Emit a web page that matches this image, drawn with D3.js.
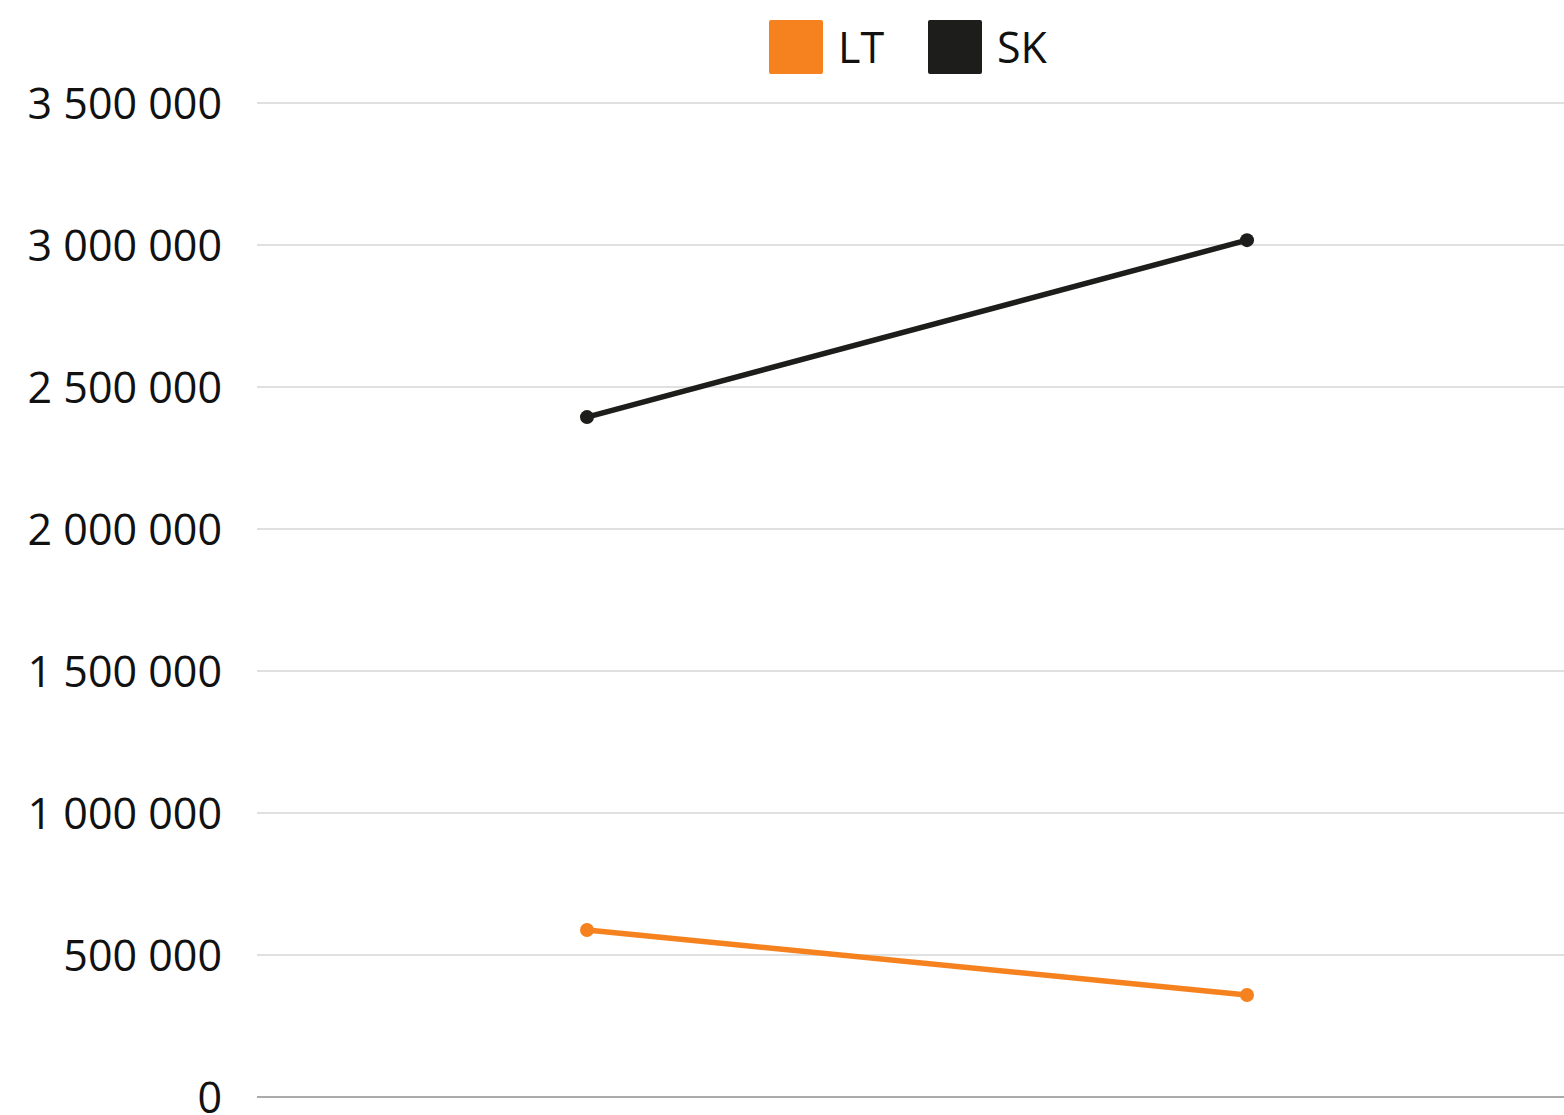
<!DOCTYPE html>
<html>
<head>
<meta charset="utf-8">
<script src="https://cdn.jsdelivr.net/npm/d3@7"></script>
<style>
  body { margin: 0; background: #fff; }
  svg { display: block; font-family: "Open Sans", "Noto Sans", sans-serif; }
</style>
</head>
<body>
<div id="chart-area"></div>
<script>
// Data
var categories = ["2021", "2022"];
var seriesNames = ["LT", "SK"];
var ltValues = [588000, 359000];
var skValues = [2394000, 3017000];
var yTicks = [0, 500000, 1000000, 1500000, 2000000, 2500000, 3000000, 3500000];

var colors = { LT: "#f5821f", SK: "#1d1d1b" };

var series = [
    { name: "LT", values: ltValues },
    { name: "SK", values: skValues }
];

// Size
var W = 1564, H = 1115;
var margin = { top: 103, right: -13, bottom: 18, left: 257 };

var svg = d3.select("#chart-area")
    .append("svg")
    .attr("width", W)
    .attr("height", H);

// Scales
var x = d3.scalePoint()
    .domain(categories)
    .range([margin.left, W - margin.right])
    .padding(0.5);

var y = d3.scaleLinear()
    .domain([0, 3500000])
    .range([H - margin.bottom, margin.top]);

var locale = d3.formatLocale({ decimal: ",", thousands: " ", grouping: [3], currency: ["", ""] });
var fmt = locale.format(",d");

// Grid lines
svg.append("g")
    .selectAll("line")
    .data(yTicks)
    .enter()
    .append("line")
    .attr("x1", margin.left)
    .attr("x2", W)
    .attr("y1", (d) => y(d))
    .attr("y2", (d) => y(d))
    .attr("stroke", (d) => d === 0 ? "#aaaaaa" : "#e0e0e0")
    .attr("stroke-width", 2);

// Y axis labels
var leftAxis = d3.axisLeft(y)
    .tickValues(yTicks)
    .tickFormat(fmt)
    .tickSize(0)
    .tickPadding(35);

var ay = svg.append("g")
    .attr("transform", "translate(" + margin.left + ",0)")
    .call(leftAxis);
ay.select(".domain").remove();
ay.selectAll("text")
    .attr("font-size", "43px")
    .attr("dy", "0.36em")
    .attr("fill", "#111")
    .attr("font-family", "'Open Sans', 'Noto Sans', sans-serif");

// Lines
var line = d3.line()
    .x((d, i) => x(categories[i]))
    .y((d) => y(d));

series.forEach((s) => {
    svg.append("path")
        .datum(s.values)
        .attr("fill", "none")
        .attr("stroke", colors[s.name])
        .attr("stroke-width", 5.5)
        .attr("d", line);

    svg.append("g")
        .selectAll("circle")
        .data(s.values)
        .enter()
        .append("circle")
        .attr("cx", (d, i) => x(categories[i]))
        .attr("cy", (d) => y(d))
        .attr("r", 7)
        .attr("fill", colors[s.name]);
});

// Legend
var legend = svg.append("g").attr("transform", "translate(769,20)");
var legendX = [0, 159];
seriesNames.forEach((name, i) => {
    var item = legend.append("g").attr("transform", "translate(" + legendX[i] + ",0)");
    item.append("rect")
        .attr("width", 54)
        .attr("height", 54)
        .attr("rx", 2)
        .attr("fill", colors[name]);
    item.append("text")
        .attr("x", 69)
        .attr("y", 43)
        .attr("font-size", "43px")
        .attr("fill", "#111")
        .text(name);
});
</script>
</body>
</html>
